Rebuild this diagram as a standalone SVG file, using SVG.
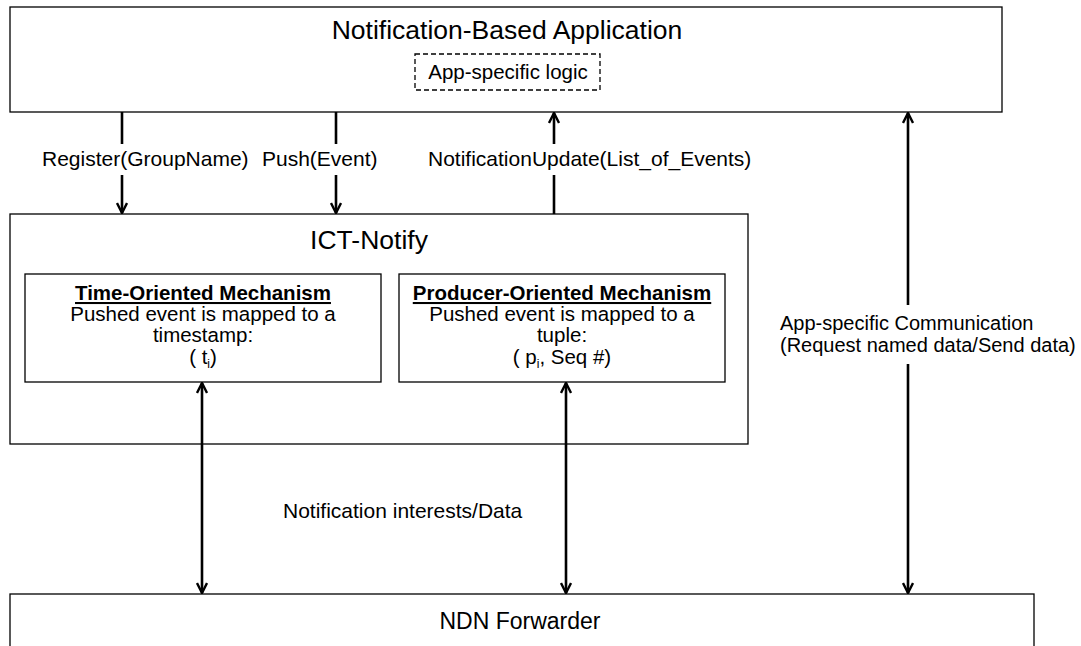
<svg xmlns="http://www.w3.org/2000/svg" width="1081" height="646" viewBox="0 0 1081 646">
  <style>
    .box { fill: #ffffff; stroke: #000000; stroke-width: 1.3; }
    .dash { fill: none; stroke: #000000; stroke-width: 1.3; stroke-dasharray: 5 3; }
    .t { font-family: "Liberation Sans", Arial, sans-serif; fill: #000000; }
    .title { font-size: 26.5px; text-anchor: middle; }
    .body { font-size: 20.5px; text-anchor: middle; }
    .lbl { font-size: 21px; }
    .side { font-size: 20px; }
    .fwd { font-size: 23px; text-anchor: middle; }
    .head { font-weight: bold; text-decoration: underline; }
    .sub { font-size: 12px; }
    .wire { fill: none; stroke: #000000; stroke-width: 2.6; }
    .gap { fill: #ffffff; stroke: none; }
  </style>
  <defs>
    <marker id="arr" viewBox="0 0 12 12" refX="11" refY="6" markerWidth="12" markerHeight="12" markerUnits="userSpaceOnUse" orient="auto-start-reverse">
      <path d="M1,1 L11,6 L1,11" fill="none" stroke="#000000" stroke-width="2.4"/>
    </marker>
  </defs>

  <rect width="1081" height="646" fill="#ffffff"/>

  <!-- application layer -->
  <g id="app">
    <rect class="box" x="10" y="7" width="992" height="105"/>
    <text class="t title" x="507" y="39">Notification-Based Application</text>
    <rect class="dash" x="415" y="54" width="185" height="36"/>
    <text class="t body" x="508" y="79">App-specific logic</text>
  </g>

  <!-- ICT-Notify layer -->
  <g id="ict">
    <rect class="box" x="10" y="214" width="738" height="230"/>
    <text class="t title" x="369" y="249">ICT-Notify</text>
  </g>

  <g id="time-mech">
    <rect class="box" x="25" y="274" width="356" height="108"/>
    <text class="t body head" x="203" y="300">Time-Oriented Mechanism</text>
    <text class="t body" x="203" y="321">Pushed event is mapped to a</text>
    <text class="t body" x="203" y="342">timestamp:</text>
    <text class="t body" x="203" y="364">( t<tspan class="sub" dy="4">i</tspan><tspan dy="-4">)</tspan></text>
  </g>

  <g id="producer-mech">
    <rect class="box" x="399" y="274" width="326" height="108"/>
    <text class="t body head" x="562" y="300">Producer-Oriented Mechanism</text>
    <text class="t body" x="562" y="321">Pushed event is mapped to a</text>
    <text class="t body" x="562" y="342">tuple:</text>
    <text class="t body" x="562" y="364">( p<tspan class="sub" dy="4">i</tspan><tspan dy="-4">, Seq #)</tspan></text>
  </g>

  <!-- forwarder layer -->
  <g id="ndn">
    <rect class="box" x="10" y="594" width="1024" height="70"/>
    <text class="t fwd" x="520" y="629">NDN Forwarder</text>
  </g>

  <!-- connectors -->
  <g id="connectors">
    <line class="wire" x1="122" y1="112" x2="122" y2="213" marker-end="url(#arr)"/>
    <line class="wire" x1="336" y1="112" x2="336" y2="213" marker-end="url(#arr)"/>
    <line class="wire" x1="554" y1="214" x2="554" y2="113" marker-end="url(#arr)"/>
    <line class="wire" x1="908" y1="113" x2="908" y2="593" marker-start="url(#arr)" marker-end="url(#arr)"/>
    <line class="wire" x1="202" y1="383" x2="202" y2="593" marker-start="url(#arr)" marker-end="url(#arr)"/>
    <line class="wire" x1="566" y1="383" x2="566" y2="593" marker-start="url(#arr)" marker-end="url(#arr)"/>

    <!-- label backgrounds break the wires -->
    <rect class="gap" x="36" y="144" width="730" height="31"/>
    <rect class="gap" x="776" y="305" width="230" height="59"/>

    <text class="t lbl" x="42" y="166">Register(GroupName)</text>
    <text class="t lbl" x="262" y="166">Push(Event)</text>
    <text class="t lbl" x="428" y="166">NotificationUpdate(List_of_Events)</text>
    <text class="t side" x="780" y="330">App-specific Communication</text>
    <text class="t side" x="780" y="352">(Request named data/Send data)</text>
    <text class="t lbl" x="283" y="518">Notification interests/Data</text>
  </g>
</svg>
